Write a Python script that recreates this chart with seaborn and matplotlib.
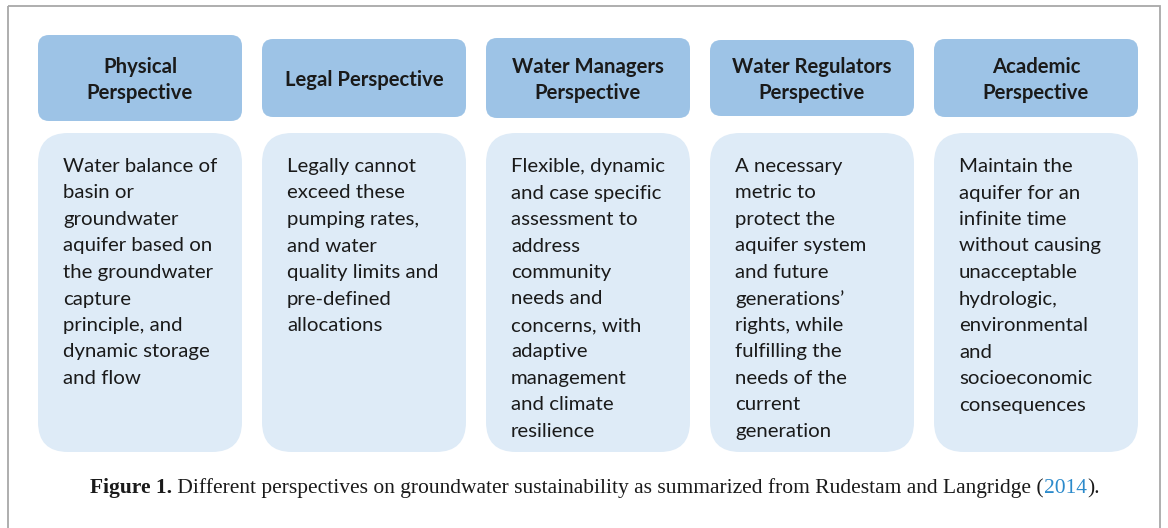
import matplotlib
matplotlib.use('Agg')
import matplotlib.pyplot as plt
from matplotlib.patches import FancyBboxPatch, Rectangle
import seaborn as sns

# ---- content -------------------------------------------------------------
HEADERS = [
    'Physical\nPerspective',
    'Legal Perspective',
    'Water Managers\nPerspective',
    'Water Regulators\nPerspective',
    'Academic\nPerspective',
]

BODIES = [
    'Water balance of\nbasin or\ngroundwater\naquifer based on\nthe groundwater\n'
    'capture\nprinciple, and\ndynamic storage\nand flow',
    'Legally cannot\nexceed these\npumping rates,\nand water\nquality limits and\n'
    'pre-defined\nallocations',
    'Flexible, dynamic\nand case specific\nassessment to\naddress\ncommunity\n'
    'needs and\nconcerns, with\nadaptive\nmanagement\nand climate\nresilience',
    'A necessary\nmetric to\nprotect the\naquifer system\nand future\n'
    'generations\u2019\nrights, while\nfulfilling the\nneeds of the\ncurrent\ngeneration',
    'Maintain the\naquifer for an\ninfinite time\nwithout causing\nunacceptable\n'
    'hydrologic,\nenvironmental\nand\nsocioeconomic\nconsequences',
]

CAPTION_PARTS = [
    ('Figure 1.', 'bold', 'text'),
    (' Different perspectives on groundwater sustainability as summarized '
     'from Rudestam and Langridge (', 'normal', 'text'),
    ('2014', 'normal', 'link'),
    (').', 'normal', 'text'),
]

COLORS = {
    'header': '#9dc3e6',
    'body':   '#deebf7',
    'text':   '#1a1a1a',
    'link':   '#2b8acb',
    'frame':  '#a8a8a8',
}

sns.set_theme(style='white')
plt.rcParams['font.family'] = ['Lato', 'DejaVu Sans']

W, H = 1168, 528
fig = plt.figure(figsize=(W / 100, H / 100), dpi=100)
ax = fig.add_axes([0, 0, 1, 1])
ax.set_xlim(0, W)
ax.set_ylim(H, 0)
ax.axis('off')

# outer frame (bottom edge runs off the page)
ax.add_patch(Rectangle((8, 6), 1152, 600, fill=False,
                       edgecolor=COLORS['frame'], lw=1.3))

col_x0, col_step, col_w = 38, 224, 204
hdr_half = [43, 39, 40, 38, 39]
line_h = 26.5

for i, (hdr, body) in enumerate(zip(HEADERS, BODIES)):
    x0 = col_x0 + i * col_step
    hh = hdr_half[i]
    ax.add_patch(FancyBboxPatch((x0, 78 - hh), col_w, 2 * hh,
                                boxstyle='round,pad=0,rounding_size=11',
                                fc=COLORS['header'], ec='none'))
    hlines = hdr.split('\n')
    base0 = 86 - (len(hlines) - 1) * 13
    for k, line in enumerate(hlines):
        ax.text(x0 + col_w / 2, base0 + k * 26, line, ha='center',
                va='baseline', fontsize=14.6, fontweight='bold',
                color=COLORS['text'])

    ax.add_patch(FancyBboxPatch((x0, 133), col_w, 319,
                                boxstyle='round,pad=0,rounding_size=30',
                                fc=COLORS['body'], ec='none'))
    for k, line in enumerate(body.split('\n')):
        ax.text(x0 + 25, 172 + k * line_h, line, ha='left', va='baseline',
                fontsize=14.7, color=COLORS['text'])

# caption: pieces laid end to end
renderer = fig.canvas.get_renderer()
pieces = []
for txt, weight, ckey in CAPTION_PARTS:
    t = ax.text(0, 493, txt, ha='left', va='baseline', fontsize=15.5,
                fontweight=weight, color=COLORS[ckey],
                family=['Liberation Serif', 'DejaVu Serif'])
    pieces.append(t)
widths = [p.get_window_extent(renderer).width for p in pieces]
x = 90
for p, w in zip(pieces, widths):
    p.set_x(x)
    x += w

fig.savefig('out.png', dpi=100)
